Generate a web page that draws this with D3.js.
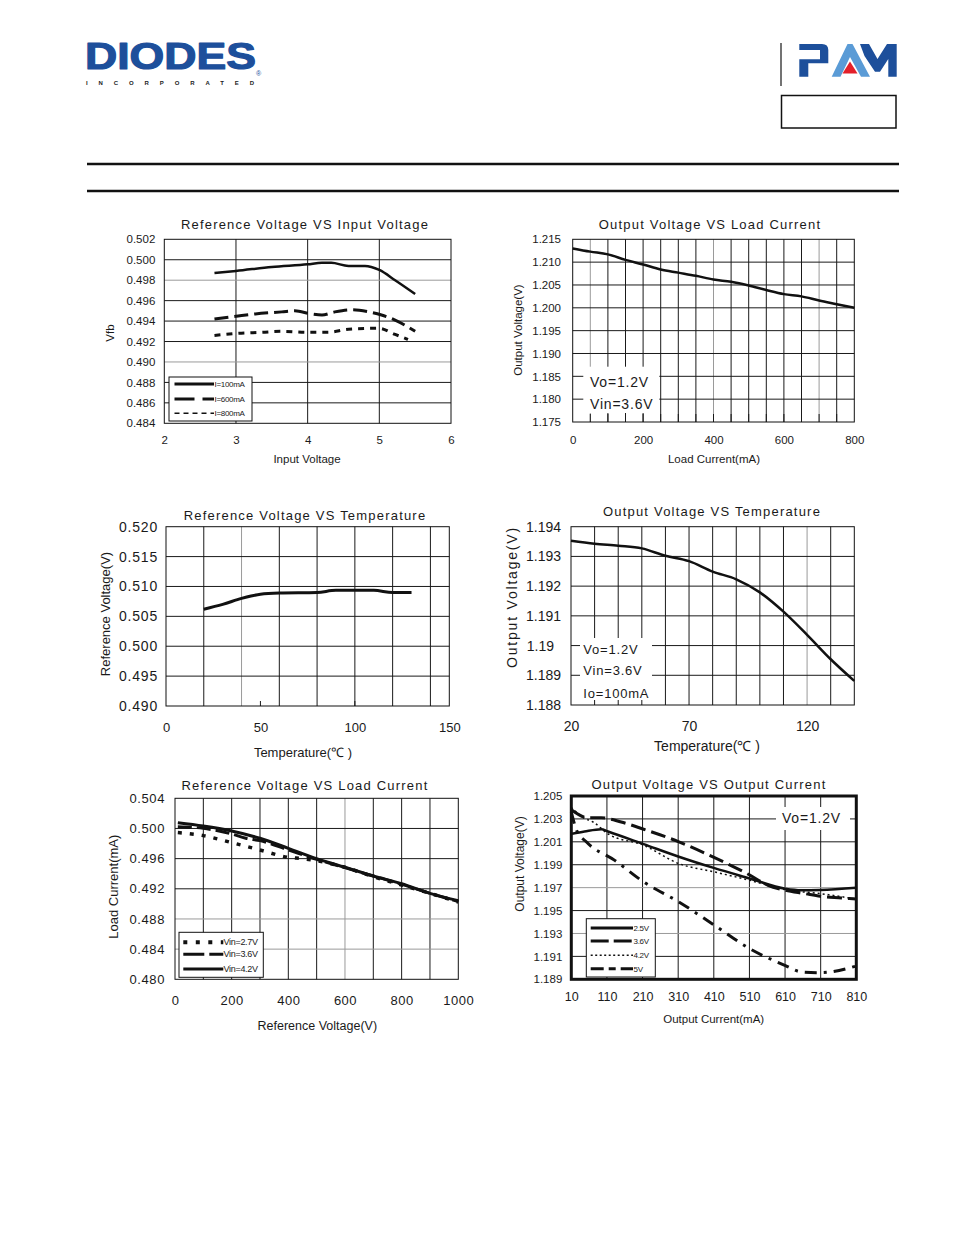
<!DOCTYPE html>
<html><head><meta charset="utf-8">
<script src="https://cdn.jsdelivr.net/npm/d3@7"></script>
<style>html,body{margin:0;padding:0;background:#fff;}svg{display:block;}</style>
</head><body><svg id="page" width="954" height="1235"></svg>
<script>
// ---------------- DATA ----------------
// Chart 1: Reference Voltage VS Input Voltage
const c1XTicks = [2, 3, 4, 5, 6];
const c1YTicks = [0.484, 0.486, 0.488, 0.490, 0.492, 0.494, 0.496, 0.498, 0.500, 0.502];
const c1YLabels = ["0.484","0.486","0.488","0.490","0.492","0.494","0.496","0.498","0.500","0.502"];
const c1I100X = [2.7, 3.0, 3.5, 4.0, 4.2, 4.33, 4.57, 4.8, 5.0, 5.22, 5.5];
const c1I100Y = [0.4987, 0.4989, 0.4993, 0.49955, 0.4997, 0.4997, 0.4994, 0.4994, 0.4990, 0.4980, 0.49665];
const c1I600X = [2.7, 3.03, 3.27, 3.64, 3.82, 4.05, 4.2, 4.38, 4.61, 4.85, 5.03, 5.22, 5.5];
const c1I600Y = [0.4942, 0.4945, 0.4947, 0.4949, 0.4950, 0.4947, 0.4946, 0.4949, 0.4951, 0.4949, 0.4946, 0.4941, 0.4930];
const c1I800X = [2.7, 3.03, 3.36, 3.64, 4.0, 4.28, 4.57, 4.99, 5.22, 5.4];
const c1I800Y = [0.4926, 0.4928, 0.4929, 0.4930, 0.4929, 0.4929, 0.4932, 0.4933, 0.4927, 0.4922];
const c1Legend = ["I=100mA", "I=600mA", "I=800mA"];

// Chart 2: Output Voltage VS Load Current
const c2XTicks = [0, 200, 400, 600, 800];
const c2YTicks = [1.175, 1.180, 1.185, 1.190, 1.195, 1.200, 1.205, 1.210, 1.215];
const c2YLabels = ["1.175","1.180","1.185","1.190","1.195","1.200","1.205","1.210","1.215"];
const c2X = [0, 50, 100, 150, 200, 250, 300, 350, 400, 450, 500, 550, 600, 650, 700, 750, 800];
const c2Y = [1.2130, 1.2123, 1.2117, 1.2105, 1.2095, 1.2084, 1.2077, 1.2070, 1.2062, 1.2057, 1.2049, 1.2039, 1.2030, 1.2025, 1.2016, 1.2008, 1.2000];
const c2Notes = ["Vo=1.2V", "Vin=3.6V"];

// Chart 3: Reference Voltage VS Temperature
const c3XTicks = [0, 50, 100, 150];
const c3YTicks = [0.490, 0.495, 0.500, 0.505, 0.510, 0.515, 0.520];
const c3YLabels = ["0.490","0.495","0.500","0.505","0.510","0.515","0.520"];
const c3X = [20, 30, 40, 45, 50, 60, 80, 90, 110, 120, 130];
const c3Y = [0.5062, 0.5070, 0.5080, 0.5084, 0.5087, 0.5089, 0.5090, 0.50935, 0.50935, 0.5090, 0.5090];

// Chart 4: Output Voltage VS Temperature
const c4XTicks = [20, 70, 120];
const c4YTicks = [1.188, 1.189, 1.190, 1.191, 1.192, 1.193, 1.194];
const c4YLabels = ["1.188","1.189","1.19","1.191","1.192","1.193","1.194"];
const c4X = [20, 30, 40, 50, 60, 70, 80, 90, 100, 110, 120, 130, 140];
const c4Y = [1.19353, 1.19343, 1.19336, 1.19327, 1.19302, 1.19284, 1.19249, 1.19223, 1.19179, 1.19114, 1.19036, 1.18954, 1.18881];
const c4Notes = ["Vo=1.2V", "Vin=3.6V", "Io=100mA"];

// Chart 5: Reference Voltage VS Load Current
const c5XTicks = [0, 200, 400, 600, 800, 1000];
const c5YTicks = [0.480, 0.484, 0.488, 0.492, 0.496, 0.500, 0.504];
const c5YLabels = ["0.480","0.484","0.488","0.492","0.496","0.500","0.504"];
const c5V42X = [10, 100, 200, 300, 400, 500, 600, 700, 800, 900, 1000];
const c5V42Y = [0.50077, 0.50033, 0.49967, 0.4987, 0.49737, 0.4960, 0.49485, 0.4937, 0.49268, 0.4914, 0.49043];
const c5V36X = [10, 100, 200, 250, 300, 400, 500, 600, 700, 800, 900, 1000];
const c5V36Y = [0.50024, 0.50002, 0.49927, 0.4987, 0.49839, 0.49715, 0.4959, 0.4948, 0.4937, 0.4926, 0.4914, 0.4903];
const c5V27X = [10, 100, 200, 300, 400, 450, 500, 600, 700, 800, 900, 1000];
const c5V27Y = [0.49945, 0.49905, 0.49812, 0.49715, 0.49617, 0.4960, 0.49573, 0.49485, 0.4936, 0.4925, 0.4914, 0.49025];
const c5Legend = ["Vin=2.7V", "Vin=3.6V", "Vin=4.2V"];

// Chart 6: Output Voltage VS Output Current
const c6XTicks = [10, 110, 210, 310, 410, 510, 610, 710, 810];
const c6YTicks = [1.189, 1.191, 1.193, 1.195, 1.197, 1.199, 1.201, 1.203, 1.205];
const c6YLabels = ["1.189","1.191","1.193","1.195","1.197","1.199","1.201","1.203","1.205"];
const c6V25X = [12, 47, 94, 113, 213, 312, 412, 511, 611, 656, 709, 810];
const c6V25Y = [1.2017, 1.2019, 1.2021, 1.2019, 1.2008, 1.1997, 1.1987, 1.1978, 1.1969, 1.19677, 1.1968, 1.1970];
const c6V36X = [10, 57, 94, 150, 213, 312, 412, 511, 562, 611, 665, 709, 768, 810];
const c6V36Y = [1.2038, 1.2031, 1.2031, 1.20273, 1.2021, 1.2010, 1.19962, 1.1981, 1.1972, 1.19677, 1.19648, 1.19624, 1.1961, 1.1960];
const c6V42X = [10, 45, 71, 113, 213, 312, 412, 511, 611, 709, 810];
const c6V42Y = [1.2040, 1.2031, 1.20273, 1.2017, 1.2007, 1.1991, 1.19837, 1.19764, 1.19682, 1.19648, 1.1960];
const c6V5X = [10, 25, 52, 132, 213, 312, 412, 511, 611, 656, 709, 810];
const c6V5Y = [1.2036, 1.2020, 1.2010, 1.19938, 1.1975, 1.19575, 1.19371, 1.19167, 1.1902, 1.18964, 1.18958, 1.19016];
const c6Legend = ["2.5V", "3.6V", "4.2V", "5V"];
const c6Notes = ["Vo=1.2V"];

// ---------------- DRAWING ----------------
const FONT = '"Liberation Sans", Arial, Helvetica, sans-serif';
const svg = d3.select('#page');
svg.append('rect').attr('width', 954).attr('height', 1235).attr('fill', '#fff');

function txt(g, s, x, y, o = {}) {
  const t = g.append('text').attr('x', x).attr('y', y).text(s)
    .attr('font-family', FONT).attr('font-size', o.size || 12)
    .attr('fill', o.fill || '#1a1a1a').attr('text-anchor', o.anchor || 'start');
  if (o.spacing) t.style('letter-spacing', o.spacing + 'px');
  if (o.weight) t.attr('font-weight', o.weight);
  if (o.rotate) t.attr('transform', `rotate(-90,${x},${y})`).attr('dominant-baseline', 'central');
  return t;
}

function drawChart(c) {
  const [L, T, R, B] = c.box;
  const g = svg.append('g');
  const x = d3.scaleLinear().domain(c.xDomain).range([L, R]);
  const y = d3.scaleLinear().domain(c.yDomain).range([B, T]);
  const grayX = c.grayX || [], grayY = c.grayY || [];
  g.selectAll(null).data(c.xGrid).join('line')
    .attr('x1', d => x(d)).attr('x2', d => x(d)).attr('y1', T).attr('y2', B)
    .attr('stroke', d => grayX.includes(d) ? '#9a9a9a' : '#1a1a1a').attr('stroke-width', 1);
  g.selectAll(null).data(c.yGrid).join('line')
    .attr('y1', d => y(d)).attr('y2', d => y(d)).attr('x1', L).attr('x2', R)
    .attr('stroke', d => grayY.some(v => Math.abs(v - d) < 1e-9) ? '#9a9a9a' : '#1a1a1a').attr('stroke-width', 1);
  if (c.note) {
    const [a, b, cc, d] = c.note.rect;
    g.append('rect').attr('x', a).attr('y', b).attr('width', cc - a).attr('height', d - b).attr('fill', '#fff');
  }
  if (c.bottomTicks) {
    g.selectAll(null).data(c.bottomTicks.values).join('line')
      .attr('x1', d => x(d)).attr('x2', d => x(d)).attr('y1', B - c.bottomTicks.len).attr('y2', B)
      .attr('stroke', '#1a1a1a').attr('stroke-width', 1);
  }
  const line = d3.line().x(d => x(d[0])).y(d => y(d[1])).curve(d3.curveMonotoneX);
  c.series.forEach(s => {
    g.append('path').datum(d3.zip(s.x, s.y)).attr('d', line)
      .attr('fill', 'none').attr('stroke', '#111').attr('stroke-width', s.w)
      .attr('stroke-dasharray', s.dash || null).attr('stroke-linejoin', 'round');
  });
  g.append('rect').attr('x', L).attr('y', T).attr('width', R - L).attr('height', B - T)
    .attr('fill', 'none').attr('stroke', '#111').attr('stroke-width', c.frameW || 1);

  // axes
  const ya = g.append('g').attr('transform', `translate(${L},0)`)
    .call(d3.axisLeft(y).tickValues(c.yTicks).tickFormat((d, i) => c.yLabels[i]).tickSize(0).tickPadding(c.yPad));
  ya.select('.domain').remove();
  ya.selectAll('text').attr('font-family', FONT).attr('font-size', c.yFont).attr('fill', '#1a1a1a')
    .style('letter-spacing', (c.ySpacing || 0) + 'px');
  if (c.yShift) ya.selectAll('text').filter(d => c.yShift[d] !== undefined).attr('dx', d => c.yShift[d]);
  const xa = g.append('g').attr('transform', `translate(0,${B})`)
    .call(d3.axisBottom(x).tickValues(c.xTicks).tickFormat(d => String(d)).tickSize(0).tickPadding(c.xPad));
  xa.select('.domain').remove();
  xa.selectAll('text').attr('font-family', FONT).attr('font-size', c.xFont).attr('fill', '#1a1a1a')
    .style('letter-spacing', (c.xSpacing || 0) + 'px');

  // titles
  txt(g, c.title[0], c.title[1], c.title[2], { size: 13, anchor: 'middle', spacing: 1.2 });
  txt(g, c.xTitle[0], c.xTitle[1], c.xTitle[2], { size: c.xTitle[3], anchor: 'middle', spacing: c.xTitle[4] || 0 });
  txt(g, c.yTitle[0], c.yTitle[1], c.yTitle[2], { size: c.yTitle[3], anchor: 'middle', rotate: true, spacing: c.yTitle[4] || 0 });

  // notes
  if (c.note) {
    c.note.lines.forEach((s, i) => txt(g, s, c.note.x, c.note.ys[i], { size: c.note.size, spacing: c.note.spacing }));
  }
  // legend
  if (c.legend) {
    const lg = c.legend;
    const [a, b, cc, d] = lg.box;
    g.append('rect').attr('x', a).attr('y', b).attr('width', cc - a).attr('height', d - b)
      .attr('fill', '#fff').attr('stroke', '#111').attr('stroke-width', 1);
    lg.rows.forEach((r, i) => {
      g.append('line').attr('x1', lg.x1).attr('x2', lg.x2).attr('y1', r.y).attr('y2', r.y)
        .attr('stroke', '#111').attr('stroke-width', r.w).attr('stroke-dasharray', r.dash || null);
      txt(g, r.label, lg.labelX, r.y + lg.size * 0.35, { size: lg.size, spacing: -0.3 });
    });
  }
}

// ---------------- HEADER ----------------
const hdr = svg.append('g');
txt(hdr, 'DIODES', 85, 69, { size: 37.5, weight: 'bold', fill: '#1d4f9b' })
  .attr('textLength', 171).attr('lengthAdjust', 'spacingAndGlyphs')
  .attr('stroke', '#1d4f9b').attr('stroke-width', 1.2).attr('stroke-linejoin', 'round');
txt(hdr, '®', 256, 76, { size: 7, fill: '#1d4f9b' });
txt(hdr, 'INCORPORATED', 86, 84.5, { size: 6, weight: 'bold', fill: '#222' })
  .attr('textLength', 168).attr('lengthAdjust', 'spacing');
hdr.append('line').attr('x1', 781).attr('x2', 781).attr('y1', 43).attr('y2', 86).attr('stroke', '#444').attr('stroke-width', 1.5);
const pamBlue = '#1d4f9b', pamLight = '#5a9bd6';
// P
hdr.append('path').attr('fill', pamBlue)
  .attr('d', 'M799.3,44 H822 Q828.3,44 828.3,50 V63.3 H808.3 V76.7 H799.3 V59.3 H820 V50 H799.3 Z');
// A
hdr.append('path').attr('fill', pamLight)
  .attr('d', 'M831.7,76.7 L847.5,44 H852.5 L870,76.7 H861 L850,57 L840.5,76.7 Z');
hdr.append('path').attr('fill', '#e3202a').attr('d', 'M842.5,73.5 L850,61.5 L857.5,73.5 Z');
// M
hdr.append('path').attr('fill', pamBlue)
  .attr('d', 'M860,44 H869 L877.5,59 L887,44 H896.7 V76.7 H888.3 V59 L880,71.7 H875 L864.5,56 Z');
hdr.append('rect').attr('x', 781.5).attr('y', 95.5).attr('width', 114.5).attr('height', 32.5)
  .attr('fill', 'none').attr('stroke', '#111').attr('stroke-width', 1.5);
hdr.append('line').attr('x1', 87).attr('x2', 899).attr('y1', 164).attr('y2', 164).attr('stroke', '#111').attr('stroke-width', 2.5);
hdr.append('line').attr('x1', 87).attr('x2', 899).attr('y1', 191).attr('y2', 191).attr('stroke', '#111').attr('stroke-width', 2.5);

const rng = (a, b, s) => d3.range(Math.round((b - a) / s) + 1).map(i => +(a + i * s).toFixed(6));

// ---------------- CHARTS ----------------
drawChart({
  box: [164.3, 239.3, 451, 423.3], xDomain: [2, 6], yDomain: [0.484, 0.502],
  xGrid: [3, 4, 5], yGrid: rng(0.486, 0.500, 0.002), grayY: [0.498, 0.490],
  xTicks: c1XTicks, yTicks: c1YTicks, yLabels: c1YLabels,
  yFont: 11.5, yPad: 9, xFont: 11.5, xPad: 13,
  title: ['Reference Voltage VS Input Voltage', 305, 228.5],
  xTitle: ['Input Voltage', 307, 462.5, 11.5], yTitle: ['Vfb', 110, 333, 11.5],
  series: [
    { x: c1I100X, y: c1I100Y, w: 2.5 },
    { x: c1I600X, y: c1I600Y, w: 3, dash: '14,6' },
    { x: c1I800X, y: c1I800Y, w: 3, dash: '6,6' }],
  legend: { box: [169, 377, 252, 421], x1: 174.5, x2: 214, labelX: 214.5, size: 8,
    rows: [{ y: 384, label: c1Legend[0], w: 3 }, { y: 399, label: c1Legend[1], w: 3, dash: '20,8' },
           { y: 413.3, label: c1Legend[2], w: 1.5, dash: '5,4' }] }
});

drawChart({
  box: [572.7, 239.3, 854.3, 422], xDomain: [0, 800], yDomain: [1.175, 1.215],
  xGrid: rng(50, 750, 50), grayX: [50, 400, 700], yGrid: rng(1.180, 1.210, 0.005),
  xTicks: c2XTicks, yTicks: c2YTicks, yLabels: c2YLabels,
  yFont: 11.5, yPad: 11.7, xFont: 11.5, xPad: 14,
  title: ['Output Voltage VS Load Current', 710, 228.5],
  xTitle: ['Load Current(mA)', 714, 462.5, 11.5], yTitle: ['Output Voltage(V)', 518, 330, 11.5],
  note: { rect: [583.3, 366.7, 659.3, 413], lines: c2Notes, x: 590, ys: [386.7, 409.3], size: 14, spacing: 0.8 },
  bottomTicks: { values: rng(50, 750, 50), len: 8 },
  series: [{ x: c2X, y: c2Y, w: 2.5 }]
});

drawChart({
  box: [166, 526.7, 449.3, 706], xDomain: [0, 150], yDomain: [0.490, 0.520],
  xGrid: rng(20, 140, 20), grayX: [40], yGrid: rng(0.495, 0.515, 0.005),
  xTicks: c3XTicks, yTicks: c3YTicks, yLabels: c3YLabels,
  yFont: 14, ySpacing: 0.8, yPad: 8, xFont: 13, xPad: 17,
  bottomTicks: { values: [50, 100], len: 5 },
  title: ['Reference Voltage VS Temperature', 305, 519.5],
  xTitle: ['Temperature(℃ )', 303, 757, 13], yTitle: ['Reference Voltage(V)', 105, 614, 13],
  series: [{ x: c3X, y: c3Y, w: 3 }]
});

drawChart({
  box: [571, 526.7, 854.3, 705], xDomain: [20, 140], yDomain: [1.188, 1.194],
  xGrid: rng(30, 130, 10), grayX: [120], yGrid: rng(1.189, 1.193, 0.001),
  xTicks: c4XTicks, yTicks: c4YTicks, yLabels: c4YLabels, yShift: { 1.19: -7 },
  yFont: 14, yPad: 10, xFont: 14, xPad: 16,
  title: ['Output Voltage VS Temperature', 712, 515.5],
  xTitle: ['Temperature(℃ )', 707, 750.5, 14], yTitle: ['Output Voltage(V)', 512, 597, 14, 1.8],
  note: { rect: [580, 638, 652, 700], lines: c4Notes, x: 583.3, ys: [653.7, 675.4, 697.7], size: 13, spacing: 0.8 },
  series: [{ x: c4X, y: c4Y, w: 2.5 }]
});

drawChart({
  box: [175, 798.3, 458.3, 979.3], xDomain: [0, 1000], yDomain: [0.480, 0.504],
  xGrid: rng(100, 900, 100), grayX: [600], yGrid: rng(0.484, 0.500, 0.004), grayY: [0.488, 0.484],
  xTicks: c5XTicks, yTicks: c5YTicks, yLabels: c5YLabels,
  yFont: 13, ySpacing: 0.6, yPad: 10, xFont: 13, xSpacing: 0.5, xPad: 16,
  title: ['Reference Voltage VS Load Current', 305, 789.5],
  xTitle: ['Reference Voltage(V)', 317.3, 1029.5, 12.5], yTitle: ['Load Current(mA)', 113.3, 886.7, 13],
  series: [
    { x: c5V27X, y: c5V27Y, w: 3.5, dash: '4,8' },
    { x: c5V36X, y: c5V36Y, w: 3, dash: '14,5' },
    { x: c5V42X, y: c5V42Y, w: 3 }],
  legend: { box: [179, 932.3, 263.3, 977.3], x1: 183.3, x2: 223.3, labelX: 223.5, size: 9,
    rows: [{ y: 942.3, label: c5Legend[0], w: 4, dash: '4,8.5' }, { y: 954.3, label: c5Legend[1], w: 3, dash: '21,5' },
           { y: 969, label: c5Legend[2], w: 3 }] }
});

drawChart({
  box: [571.3, 796, 856.3, 979.3], xDomain: [10, 810], yDomain: [1.189, 1.205], frameW: 3,
  xGrid: rng(110, 710, 100), yGrid: rng(1.191, 1.203, 0.002), grayY: [1.197, 1.193],
  xTicks: c6XTicks, yTicks: c6YTicks, yLabels: c6YLabels,
  yFont: 11.5, yPad: 9, xFont: 12.5, xPad: 13,
  title: ['Output Voltage VS Output Current', 709, 788.5],
  xTitle: ['Output Current(mA)', 713.7, 1022.5, 11.5], yTitle: ['Output Voltage(V)', 520, 864, 12],
  note: { rect: [776, 807, 850, 830], lines: c6Notes, x: 782, ys: [823], size: 14, spacing: 0.8 },
  series: [
    { x: c6V25X, y: c6V25Y, w: 2.5 },
    { x: c6V36X, y: c6V36Y, w: 3, dash: '15,6' },
    { x: c6V42X, y: c6V42Y, w: 1.5, dash: '2,3' },
    { x: c6V5X, y: c6V5Y, w: 3, dash: '12,7,3,7' }],
  legend: { box: [586.3, 918.7, 655.3, 977], x1: 590.7, x2: 633, labelX: 633.5, size: 8,
    rows: [{ y: 928, label: c6Legend[0], w: 3 }, { y: 941, label: c6Legend[1], w: 3, dash: '18,5' },
           { y: 955.3, label: c6Legend[2], w: 1.5, dash: '2,2.5' }, { y: 968.7, label: c6Legend[3], w: 3, dash: '13,5,7,5' }] }
});
</script>
</body></html>
